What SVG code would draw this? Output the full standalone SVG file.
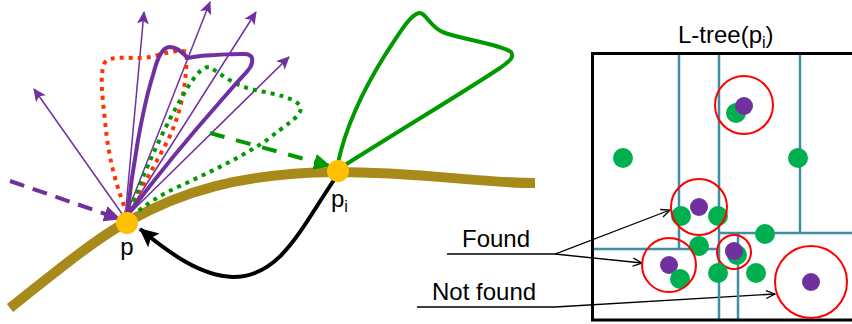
<svg xmlns="http://www.w3.org/2000/svg" width="852" height="324" viewBox="0 0 852 324">
<style>
.lbl{font-family:"Liberation Sans",Arial,sans-serif;font-size:24px;fill:#000}
.sub{font-size:16px}
.teal{stroke:#3D8FA6;stroke-width:2.5;fill:none}
.gdot{fill:#00B050}
.pdot{fill:#7030A0}
.rc{fill:none;stroke:#FF0000;stroke-width:2}
.parrow{stroke:#7030A0;stroke-width:1.5;fill:none;marker-end:url(#pa)}
.thin{stroke:#000;stroke-width:1.3;fill:none;marker-end:url(#oa)}
</style>
<defs>
<marker id="pa" markerUnits="userSpaceOnUse" markerWidth="14" markerHeight="12" refX="12" refY="6" orient="auto">
<path d="M0,0 L13,6 L0,12 L3,6 Z" fill="#7030A0"/>
</marker>
<marker id="pbig" markerUnits="userSpaceOnUse" markerWidth="18" markerHeight="16" refX="16" refY="8" orient="auto">
<path d="M0,0 L17,8 L0,16 Z" fill="#7030A0"/>
</marker>
<marker id="gbig" markerUnits="userSpaceOnUse" markerWidth="18" markerHeight="16" refX="16" refY="8" orient="auto">
<path d="M0,0 L17,8 L0,16 Z" fill="#009900"/>
</marker>
<marker id="kbig" markerUnits="userSpaceOnUse" markerWidth="20" markerHeight="18" refX="18" refY="9" orient="auto">
<path d="M0,0 L19,9 L0,18 L4,9 Z" fill="#000"/>
</marker>
<marker id="oa" markerUnits="userSpaceOnUse" markerWidth="12" markerHeight="10" refX="10" refY="5" orient="auto">
<path d="M1,1 L10,5 L1,9" fill="none" stroke="#000" stroke-width="1.3"/>
</marker>
</defs>

<g id="curve">
<path d="M10,308 C60,268 100,236 127,222 C180,192 240,173 336,172 C420,172 480,183 535,183" fill="none" stroke="#A88A1A" stroke-width="10"/>
</g>

<g id="connectors">
<path d="M10,181 L120,219" fill="none" stroke="#7030A0" stroke-width="4" stroke-dasharray="15,9" marker-end="url(#pbig)"/>
<path class="parrow" d="M125,218 L34,89"/>
<path class="parrow" d="M125,218 L144,12"/>
<path class="parrow" d="M125,218 L210,2"/>
<path class="parrow" d="M125,218 L256,12"/>
<path class="parrow" d="M125,218 L289,57"/>
<path d="M210,133 L330,166" fill="none" stroke="#009900" stroke-width="4" stroke-dasharray="15,12" marker-end="url(#gbig)"/>
<path d="M334,180 C300,230 280,277 233,277 C200,276 168,252 140,229" fill="none" stroke="#000" stroke-width="4" marker-end="url(#kbig)"/>
<polyline class="thin" points="447,254 555,254 670,210"/>
<path class="thin" d="M555,254 L642,263"/>
<polyline class="thin" points="417,307 555,307 775,294"/>
</g>

<g id="loops">
<path d="M127,214 C118,190 108,160 105,120 C102,95 100,75 104,64 C108,56 120,58 143,58 C160,56 175,48 187,52 C186,90 180,115 168,140 C155,165 140,190 130,210" fill="none" stroke="#FF3300" stroke-width="4" stroke-dasharray="4,5"/>
<path d="M130,210 C145,170 165,125 185,92 C195,75 203,66 210,67 C222,75 235,86 255,90 C275,94 298,98 301,108 C300,118 285,125 267,140 C240,158 210,172 180,186 C160,195 145,205 135,214" fill="none" stroke="#009900" stroke-width="4" stroke-dasharray="4,5"/>
<path d="M127,218 C132,170 142,110 153,75 C158,55 163,47 170,47 C178,47 183,54 188,58 C193,57 200,55 215,55 C240,54 250,52 252,58 C254,67 246,72 233,87 C215,108 180,145 130,212" fill="none" stroke="#7030A0" stroke-width="4"/>
<path d="M338,163 C345,130 360,95 385,55 C400,32 410,15 419,13 C426,12 430,28 445,33 C465,40 500,44 511,52 C515,58 508,62 500,68 C470,88 420,118 345,165" fill="none" stroke="#009900" stroke-width="4"/>
</g>

<g id="node-p">
<circle cx="127" cy="223" r="11" fill="#FFC000"/>
<text class="lbl" x="127" y="255" text-anchor="middle">p</text>
</g>

<g id="node-pi">
<circle cx="338" cy="171" r="11" fill="#FFC000"/>
<text class="lbl" x="331" y="207">p<tspan class="sub" dy="5">i</tspan></text>
</g>

<g id="ltree">
<text class="lbl" x="678" y="43">L-tree(p<tspan class="sub" dy="5">i</tspan><tspan dy="-5">)</tspan></text>
<line class="teal" x1="679" y1="53" x2="679" y2="249"/>
<line class="teal" x1="719" y1="53" x2="719" y2="320"/>
<line class="teal" x1="800" y1="53" x2="800" y2="233"/>
<line class="teal" x1="592" y1="249" x2="719" y2="249"/>
<line class="teal" x1="719" y1="233" x2="852" y2="233"/>
<line class="teal" x1="738" y1="233" x2="738" y2="320"/>
<rect x="592.5" y="53.5" width="275" height="266.5" fill="none" stroke="#000" stroke-width="3"/>

<circle class="gdot" cx="736" cy="113" r="10"/>
<circle class="pdot" cx="744" cy="106" r="9"/>
<circle class="rc" cx="744" cy="105" r="29"/>
<circle class="gdot" cx="623" cy="158" r="10"/>
<circle class="gdot" cx="798" cy="158" r="10"/>

<circle class="pdot" cx="699" cy="207" r="9"/>
<circle class="gdot" cx="681" cy="216" r="10"/>
<circle class="gdot" cx="718" cy="216" r="10"/>
<circle class="rc" cx="699" cy="207" r="28"/>
<circle class="gdot" cx="699" cy="246" r="10"/>
<circle class="gdot" cx="765" cy="234" r="10"/>

<circle class="pdot" cx="669" cy="265" r="9"/>
<circle class="gdot" cx="680" cy="279" r="10"/>
<circle class="rc" cx="669" cy="265" r="27"/>

<circle class="gdot" cx="737" cy="255" r="10"/>
<circle class="pdot" cx="734" cy="251" r="9"/>
<circle class="rc" cx="734" cy="252" r="17"/>
<circle class="gdot" cx="718" cy="273" r="10"/>
<circle class="gdot" cx="756" cy="273" r="10"/>

<circle class="pdot" cx="811" cy="282" r="9"/>
<circle class="rc" cx="811" cy="282" r="36"/>
</g>

<g id="labels">
<text class="lbl" x="462" y="247">Found</text>
<text class="lbl" x="432" y="300">Not found</text>
</g>
</svg>
